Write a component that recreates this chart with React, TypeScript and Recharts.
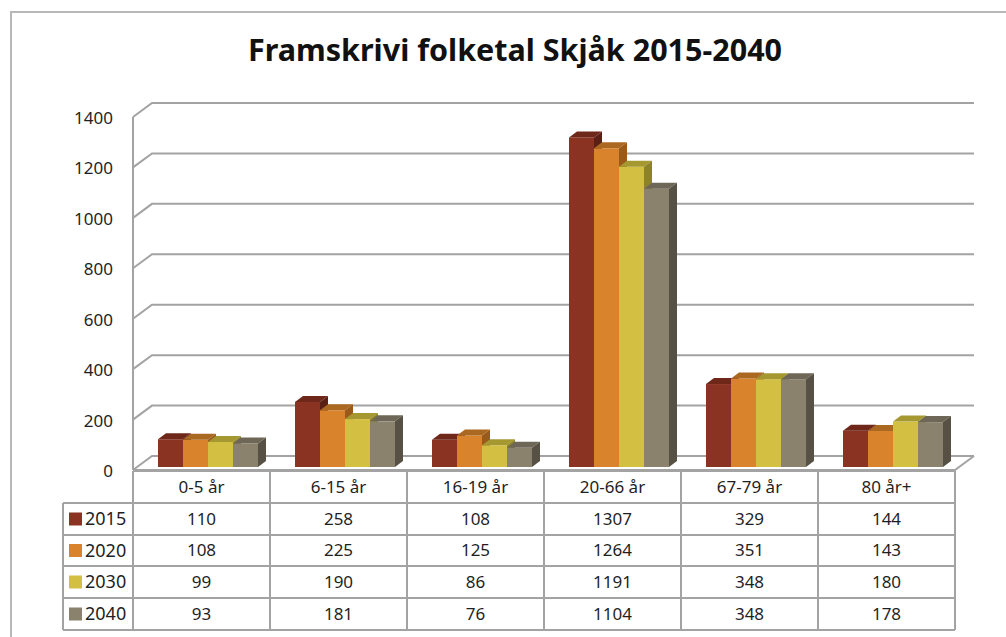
import { BarChart, Bar, XAxis, YAxis, CartesianGrid } from 'recharts';

const CATEGORIES = ['0-5 år', '6-15 år', '16-19 år', '20-66 år', '67-79 år', '80 år+'];
const YEARS = ['2015', '2020', '2030', '2040'];
const V2015 = [110, 258, 108, 1307, 329, 144];
const V2020 = [108, 225, 125, 1264, 351, 143];
const V2030 = [99, 190, 86, 1191, 348, 180];
const V2040 = [93, 181, 76, 1104, 348, 178];
const Y_TICKS = [0, 200, 400, 600, 800, 1000, 1200, 1400];

const VALUES = [V2015, V2020, V2030, V2040];

// front / top / side shades per year
const SHADES = [
  { front: '#8B3323', top: '#6E2719', side: '#5B1F15' },
  { front: '#D9842C', top: '#AB6820', side: '#9A5A1A' },
  { front: '#D3BF42', top: '#A69831', side: '#8E8227' },
  { front: '#8B826E', top: '#6E6757', side: '#565144' },
];

const data = CATEGORIES.map((cat, i) => {
  const row: Record<string, string | number> = { cat };
  YEARS.forEach((y, k) => (row[y] = VALUES[k][i]));
  return row;
});

const W = 1006;
const H = 637;
const PLOT_L = 139;
const PLOT_R = 961;
const PLOT_T = 114;
const PLOT_B = 467;
const FRONT_DX = -6;
const FRONT_DY = 3;
const BACK_DX = 13;
const BACK_DY = -11;
const GRID = '#a3a3a3';
const TEXT = '#1f1f1f';
const FONT = '"Noto Sans", "Open Sans", sans-serif';

const gridLine = (p: any) => {
  const { x1, x2, y1, index } = p;
  const fx = x1 + FRONT_DX;
  const fy = y1 + FRONT_DY;
  const bx = x1 + BACK_DX;
  const by = y1 + BACK_DY;
  const ex = x2 + BACK_DX;
  const isFloor = Math.abs(y1 - PLOT_B) < 1;
  return (
    <g key={`g-${index}`}>
      <polyline points={`${fx},${fy} ${bx},${by} ${ex},${by}`} fill="none" stroke={GRID} strokeWidth={2} />
      {isFloor && (
        <>
          <polyline
            points={`${ex},${by} ${x2 + FRONT_DX},${fy} ${fx},${fy}`}
            fill="none"
            stroke={GRID}
            strokeWidth={2}
          />
          <line x1={fx} y1={fy} x2={fx} y2={PLOT_T + FRONT_DY} stroke={GRID} strokeWidth={2} />
        </>
      )}
    </g>
  );
};

const make3D = (k: number) => (p: any) => {
  const { x, y, width, height } = p;
  if (!height || height <= 0) return <g />;
  const s = SHADES[k];
  const d = 8;
  const e = 6;
  return (
    <g>
      <rect x={x} y={y} width={width} height={height} fill={s.front} />
      <polygon points={`${x},${y} ${x + d},${y - e} ${x + width + d},${y - e} ${x + width},${y}`} fill={s.top} />
      <polygon
        points={`${x + width},${y} ${x + width + d},${y - e} ${x + width + d},${y + height - e} ${x + width},${y + height}`}
        fill={s.side}
      />
    </g>
  );
};

const YTick = ({ y, payload }: any) => (
  <text x={113} y={y + FRONT_DY + 1} dy="0.35em" textAnchor="end" fontSize={17} fill={TEXT} fontFamily={FONT}>
    {payload.value}
  </text>
);

// data table under the plot
const T_LEFT = 63;
const T_COLS = [133, 270, 407, 544, 681, 818, 955];
const T_ROWS = [471, 503, 535, 566, 598, 630];

function DataTable() {
  const mid = (a: number, b: number) => (a + b) / 2;
  return (
    <svg width={W} height={H} style={{ position: 'absolute', left: 0, top: 0 }} fontFamily={FONT}>
      {T_ROWS.map((y, i) => (
        <line
          key={`h${i}`}
          x1={i === 0 ? T_COLS[0] : T_LEFT}
          x2={T_COLS[T_COLS.length - 1]}
          y1={y}
          y2={y}
          stroke={GRID}
          strokeWidth={2}
        />
      ))}
      <line x1={T_LEFT} x2={T_LEFT} y1={T_ROWS[1]} y2={T_ROWS[5]} stroke={GRID} strokeWidth={2} />
      {T_COLS.map((x, i) => (
        <line key={`v${i}`} x1={x} x2={x} y1={T_ROWS[0]} y2={T_ROWS[5]} stroke={GRID} strokeWidth={2} />
      ))}
      {CATEGORIES.map((c, i) => (
        <text
          key={c}
          x={mid(T_COLS[i], T_COLS[i + 1])}
          y={mid(T_ROWS[0], T_ROWS[1])}
          dy="0.35em"
          textAnchor="middle"
          fontSize={17}
          fill={TEXT}
        >
          {c}
        </text>
      ))}
      {YEARS.map((yr, k) => {
        const cy = mid(T_ROWS[k + 1], T_ROWS[k + 2]);
        return (
          <g key={yr}>
            <rect x={69} y={cy - 6.5} width={13} height={13} fill={SHADES[k].front} />
            <text x={85} y={cy} dy="0.35em" fontSize={18} fill={TEXT}>
              {yr}
            </text>
            {VALUES[k].map((v, i) => (
              <text
                key={i}
                x={mid(T_COLS[i], T_COLS[i + 1])}
                y={cy}
                dy="0.35em"
                textAnchor="middle"
                fontSize={17}
                fill={TEXT}
              >
                {v}
              </text>
            ))}
          </g>
        );
      })}
    </svg>
  );
}

export default function App() {
  return (
    <div
      style={{
        position: 'absolute',
        left: 0,
        top: 0,
        width: W,
        height: H,
        background: '#fff',
        overflow: 'hidden',
        fontFamily: FONT,
      }}
    >
      <div
        style={{
          position: 'absolute',
          left: 10,
          top: 11,
          width: W,
          height: H,
          borderLeft: '2px solid #b8b8b8',
          borderTop: '2px solid #b8b8b8',
        }}
      />
      <div
        style={{
          position: 'absolute',
          left: 0,
          width: 1030,
          top: 28,
          textAlign: 'center',
          fontSize: 30.5,
          fontWeight: 700,
          color: '#111',
        }}
      >
        Framskrivi folketal Skjåk 2015-2040
      </div>
      <div style={{ position: 'absolute', left: 0, top: 0 }}>
        <BarChart
          width={W}
          height={H}
          data={data}
          margin={{ top: PLOT_T, right: W - PLOT_R, bottom: H - PLOT_B, left: PLOT_L - 60 }}
          barGap={0}
          barSize={25}
        >
          <CartesianGrid vertical={false} horizontal={gridLine} />
          <XAxis dataKey="cat" hide />
          <YAxis
            width={60}
            domain={[0, 1400]}
            ticks={Y_TICKS}
            axisLine={false}
            tickLine={false}
            tick={<YTick />}
            interval={0}
          />
          {YEARS.map((yr, k) => (
            <Bar key={yr} dataKey={yr} isAnimationActive={false} shape={make3D(k)} />
          ))}
        </BarChart>
      </div>
      <DataTable />
    </div>
  );
}
